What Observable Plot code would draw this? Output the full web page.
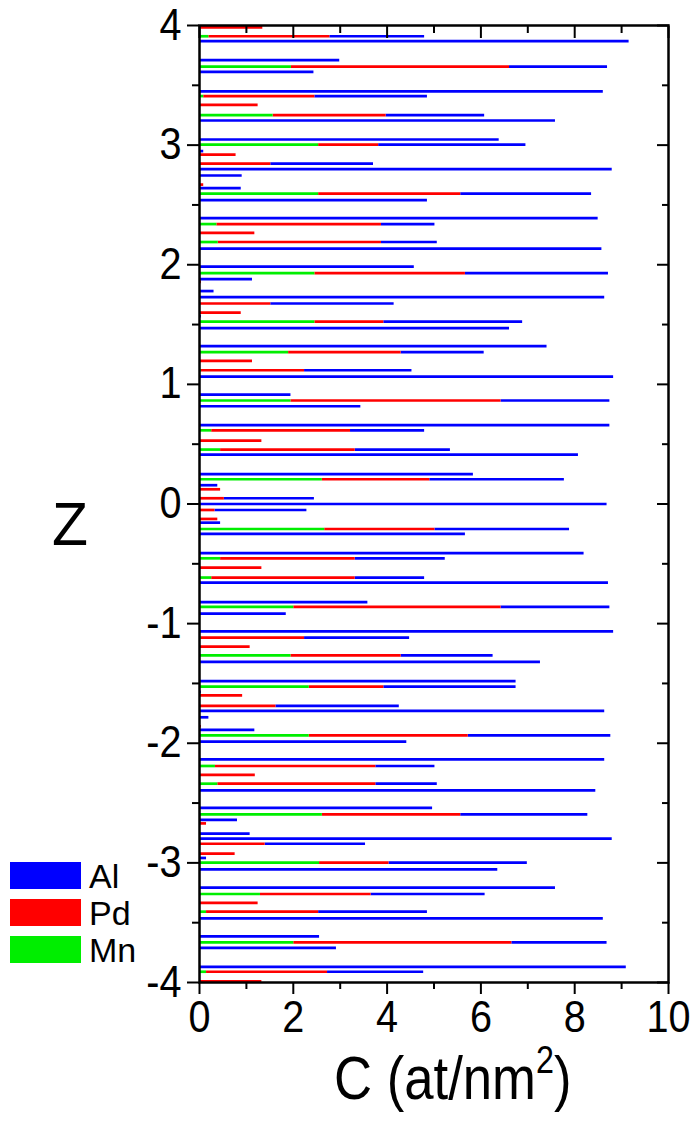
<!DOCTYPE html>
<html><head><meta charset="utf-8">
<script src="https://cdn.jsdelivr.net/npm/d3@7"></script>
<script src="https://cdn.jsdelivr.net/npm/@observablehq/plot@0.6"></script>
<style>
body{margin:0;background:#fff;}
#wrap{position:relative;width:692px;height:1125px;font-family:"Liberation Sans",Arial,sans-serif;color:#000;}
#wrap svg{position:absolute;left:0;top:0;}
.leg{position:absolute;left:10px;height:27px;display:flex;align-items:center;font-size:34px;line-height:1;}
.leg .sw{display:inline-block;width:71px;height:27px;margin-right:8px;}
</style></head><body><div id="wrap"></div>
<script>
// plane heights (Z) from top to bottom
const z = [3.985, 3.91, 3.87, 3.71, 3.657, 3.613, 3.45, 3.41, 3.337, 3.25,
 3.206, 3.047, 3.005, 2.95, 2.92, 2.846, 2.80, 2.746, 2.67, 2.64,
 2.595, 2.54, 2.39, 2.34, 2.267, 2.19, 2.135, 1.985, 1.93, 1.88,
 1.857, 1.78, 1.73, 1.676, 1.60, 1.57, 1.525, 1.47, 1.32, 1.27,
 1.196, 1.118, 1.065, 0.915, 0.865, 0.817, 0.66, 0.616, 0.53, 0.455,
 0.413, 0.25, 0.207, 0.157, 0.123, 0.048, 0.0, -0.05, -0.125, -0.156,
 -0.209, -0.25, -0.41, -0.454, -0.532, -0.615, -0.657, -0.82, -0.86, -0.917,
 -1.064, -1.117, -1.192, -1.265, -1.32, -1.48, -1.527, -1.57, -1.60, -1.688,
 -1.73, -1.783, -1.858, -1.888, -1.934, -1.987, -2.135, -2.19, -2.265, -2.338,
 -2.394, -2.541, -2.594, -2.641, -2.67, -2.756, -2.798, -2.84, -2.923, -2.959,
 -2.998, -3.054, -3.207, -3.26, -3.335, -3.408, -3.464, -3.615, -3.665, -3.71,
 -3.87, -3.91, -3.99];
// Mn concentration per plane
const mn = [0, 0.20, 0, 0, 1.96, 0, 0, 0.09, 0, 1.57,
 0, 0, 2.54, 0, 0, 0, 0, 0, 0, 0,
 2.54, 0, 0, 0.37, 0, 0.40, 0, 0, 2.46, 0,
 0, 0, 0, 0, 0, 0, 2.46, 0, 0, 1.90,
 0, 0.04, 0, 0, 1.95, 0, 0, 0.26, 0, 0.45,
 0, 0, 2.62, 0, 0, 0, 0, 0, 0, 0,
 2.67, 0, 0, 0.45, 0, 0.26, 0, 0, 2.01, 0,
 0, 0.04, 0, 1.95, 0, 0, 2.34, 0, 0, 0,
 0, 0, 0, 0, 2.34, 0, 0, 0.34, 0, 0.39,
 0, 0, 2.62, 0, 0, 0, 0, 0, 0, 0,
 2.56, 0, 0, 1.30, 0, 0.15, 0, 0, 2.01, 0,
 0, 0.15, 0];
// Pd concentration per plane
const pd = [1.35, 2.58, 0, 0, 4.65, 0, 0, 2.37, 1.25, 2.41,
 0, 0, 1.28, 0, 0.78, 1.52, 0, 0, 0.09, 0,
 3.03, 0, 0, 3.51, 1.18, 3.48, 0, 0, 3.21, 0,
 0.04, 0, 0, 1.52, 0.89, 0, 1.47, 0, 0, 2.40,
 1.13, 2.20, 0, 0, 4.48, 0, 0, 2.96, 1.33, 2.87,
 0, 0, 2.29, 0, 0.45, 0.53, 0, 0.33, 0.39, 0,
 2.35, 0, 0, 2.87, 1.33, 3.06, 0, 0, 4.42, 0,
 0, 2.20, 1.08, 2.35, 0, 0, 1.59, 0, 0.92, 1.63,
 0, 0, 0.04, 0, 3.39, 0, 0, 3.42, 1.19, 3.37,
 0, 0, 2.95, 0, 0.15, 0, 0, 1.40, 0.76, 0,
 1.48, 0, 0, 2.36, 1.25, 2.39, 0, 0, 4.65, 0,
 0, 2.58, 1.33];
// Al concentration per plane
const al = [0, 2.02, 9.16, 2.99, 2.09, 2.44, 8.61, 2.40, 0, 2.10,
 7.59, 6.39, 3.14, 0.09, 0, 2.19, 8.80, 0.91, 0, 0.89,
 2.79, 4.86, 8.50, 1.14, 0, 1.19, 8.58, 4.58, 3.05, 1.13,
 0, 0.31, 8.64, 2.63, 0, 0.04, 2.96, 6.61, 7.41, 1.77,
 0, 2.29, 8.83, 1.95, 2.32, 3.44, 8.75, 1.58, 0, 2.03,
 8.08, 5.84, 2.87, 0.39, 0, 1.92, 8.69, 1.96, 0, 0.45,
 2.87, 5.67, 8.20, 1.92, 0, 1.48, 8.72, 3.59, 2.32, 1.85,
 8.83, 2.24, 0, 1.96, 7.27, 6.75, 2.82, 0.04, 0, 2.63,
 8.64, 0.20, 0, 1.18, 3.04, 4.42, 8.64, 1.26, 0, 1.31,
 8.45, 4.97, 2.71, 0.81, 0, 1.08, 8.80, 2.14, 0, 0.15,
 2.95, 6.36, 7.59, 2.43, 0, 2.32, 8.61, 2.56, 2.03, 2.92,
 9.10, 2.05, 0];

const seriesNames = ["Al", "Pd", "Mn"];
const seriesColors = ["#0000ff", "#ff0000", "#00ee00"];
const xTicks = [0, 2, 4, 6, 8, 10];
const xMinor = [1, 3, 5, 7, 9];
const yTicks = [-4, -3, -2, -1, 0, 1, 2, 3, 4];
const yMinor = [-3.5, -2.5, -1.5, -0.5, 0.5, 1.5, 2.5, 3.5];
const xLabel = "C (at/nm";
const xLabelSup = "2";
const yLabel = "Z";

const rows = z.map((v, i) => ({z: v, g: mn[i], r: mn[i] + pd[i], b: mn[i] + pd[i] + al[i]}));
const font = '"Liberation Sans",Arial,sans-serif';
const bw = 2.7;
const ax = {stroke: "black", strokeWidth: 2, label: null};

const chart = Plot.plot({
  width: 692, height: 1125,
  marginLeft: 199, marginRight: 24, marginTop: 25, marginBottom: 143,
  x: {domain: [0, 10], label: null},
  y: {domain: [-4, 4], label: null},
  style: {fontFamily: font, fontSize: "44px", color: "#000", background: "transparent"},
  marks: [
    Plot.ruleY(rows.filter(d => d.b > d.r), {y: "z", x1: "r", x2: "b", stroke: seriesColors[0], strokeWidth: bw}),
    Plot.ruleY(rows.filter(d => d.r > d.g), {y: "z", x1: "g", x2: "r", stroke: seriesColors[1], strokeWidth: bw}),
    Plot.ruleY(rows.filter(d => d.g > 0), {y: "z", x1: () => 0, x2: "g", stroke: seriesColors[2], strokeWidth: bw}),
    Plot.frame({stroke: "black", strokeWidth: 2.5}),
    Plot.axisX(xTicks, {...ax, anchor: "bottom", tickSize: 12, tickPadding: 6, fontSize: 44}),
    Plot.axisX(xMinor, {...ax, anchor: "bottom", tickSize: 7, text: null}),
    Plot.axisX(xTicks, {...ax, anchor: "top", tickSize: -12, text: null}),
    Plot.axisX(xMinor, {...ax, anchor: "top", tickSize: -7, text: null}),
    Plot.axisY(yTicks, {...ax, anchor: "left", tickSize: 12, tickPadding: 6, fontSize: 44, tickFormat: d => String(d)}),
    Plot.axisY(yMinor, {...ax, anchor: "left", tickSize: 7, text: null}),
    Plot.axisY(yTicks, {...ax, anchor: "right", tickSize: -12, text: null}),
    Plot.axisY(yMinor, {...ax, anchor: "right", tickSize: -7, text: null})
  ]
});
const wrap = document.getElementById("wrap");
wrap.appendChild(chart);

// condense tick labels (the original uses a narrow face)
const sx = 0.9;
d3.select(chart).selectAll('g[aria-label$="tick label"] text').each(function() {
  const t = this.getAttribute("transform");
  if (t) this.setAttribute("transform", t + ` scale(${sx},1)`);
  else {
    const x = +this.getAttribute("x") || 0, y = +this.getAttribute("y") || 0;
    this.removeAttribute("x"); this.removeAttribute("y");
    this.setAttribute("transform", `translate(${x},${y}) scale(${sx},1)`);
  }
});

// axis titles
const svg = d3.select(chart);
svg.append("text")
  .attr("transform", "translate(52,545) scale(0.95,1)")
  .attr("text-anchor", "start")
  .attr("font-size", 62).attr("font-family", font).attr("fill", "#000")
  .text(yLabel);
const xt = svg.append("text")
  .attr("transform", "translate(334,1099) scale(0.85,1)")
  .attr("text-anchor", "start")
  .attr("font-size", 62).attr("font-family", font).attr("fill", "#000");
xt.append("tspan").text(xLabel);
xt.append("tspan").attr("font-size", 38).attr("dy", -26).text(xLabelSup);
xt.append("tspan").attr("dy", 26).text(")");

// legend
const legTops = [862, 899, 936];
seriesNames.forEach((n, i) => {
  const d = document.createElement("div");
  d.className = "leg"; d.style.top = legTops[i] + "px";
  d.innerHTML = `<span class="sw" style="background:${seriesColors[i]}"></span><span>${n}</span>`;
  wrap.appendChild(d);
});
</script></body></html>
